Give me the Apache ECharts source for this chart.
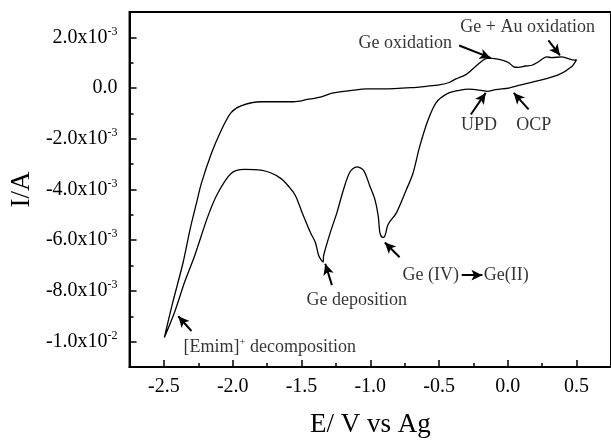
<!DOCTYPE html>
<html>
<head>
<meta charset="utf-8">
<script src="https://cdn.jsdelivr.net/npm/echarts@6/dist/echarts.min.js"></script>
<style>
  html, body { margin: 0; padding: 0; background: #fff; }
  #chart { width: 611px; height: 443px; }
</style>
</head>
<body>
<div id="chart"></div>
<script>
// potential (V vs Ag) and current (in units of 1e-3 A), scan order
// cathodic sweep: from +0.5 V vertex down to -2.5 V
const cathodicE = [0.5, 0.463, 0.367, 0.199, 0.055, 0.007, -0.089, -0.15, -0.185, -0.282, -0.354, -0.44,
  -0.522, -0.582, -0.642, -0.69, -0.738, -0.81, -0.87, -0.894, -0.911, -0.93, -0.942, -0.966, -1.002,
  -1.05, -1.098, -1.147, -1.195, -1.243, -1.291, -1.339, -1.343, -1.375, -1.399, -1.435, -1.495, -1.531,
  -1.555, -1.651, -1.795, -1.915, -2.012, -2.108, -2.18, -2.276, -2.349, -2.42, -2.497];
const cathodicI = [1.12, 0.84, 0.52, 0.26, 0.07, 0.0, -0.06, -0.13, -0.10, -0.04, -0.09, -0.22,
  -0.58, -1.29, -2.33, -3.37, -4.01, -4.92, -5.37, -5.83, -5.89, -5.70, -5.05, -4.40, -3.88,
  -3.24, -3.11, -3.30, -4.01, -4.92, -5.70, -6.60, -6.86, -6.60, -6.09, -5.70, -4.92, -4.40,
  -4.14, -3.56, -3.24, -3.21, -3.37, -4.14, -5.05, -6.60, -7.64, -8.80, -9.84];
// anodic sweep: from -2.5 V back up to +0.5 V
const anodicE = [-2.497, -2.44, -2.36, -2.31, -2.264, -2.228, -2.156, -2.084, -2.012, -1.94, -1.795,
  -1.72, -1.557, -1.457, -1.363, -1.27, -1.147, -1.026, -0.906, -0.666, -0.594, -0.498, -0.426, -0.377,
  -0.305, -0.21, -0.15, -0.113, -0.041, 0.007, 0.043, 0.079, 0.127, 0.175, 0.223, 0.283, 0.319, 0.391,
  0.488, 0.5];
const anodicI = [-9.84, -8.54, -6.86, -5.57, -4.55, -3.76, -2.59, -1.67, -0.97, -0.70, -0.54,
  -0.54, -0.54, -0.45, -0.36, -0.19, -0.10, -0.03, -0.03, 0.03, 0.07, 0.13, 0.22, 0.36,
  0.53, 0.97, 1.17, 1.17, 1.10, 1.0, 0.84, 0.82, 0.87, 0.90, 1.04, 1.23, 1.20, 1.23,
  1.10, 1.12];

const xMajor = [-2.5, -2.0, -1.5, -1.0, -0.5, 0.0, 0.5];
const xMinor = [-2.25, -1.75, -1.25, -0.75, -0.25, 0.25];
const yMajor = [2, 0, -2, -4, -6, -8, -10];
const yMinor = [1, -1, -3, -5, -7, -9];

// annotations: [E, I, text]
const notes = [
  [-0.745, 1.75, 'Ge oxidation'],
  [0.144, 2.40, 'Ge + Au oxidation'],
  [-0.209, -1.48, 'UPD'],
  [0.188, -1.48, 'OCP'],
  [-1.099, -8.35, 'Ge deposition'],
  [-0.56, -7.38, 'Ge (IV)'],
  [-0.011, -7.38, 'Ge(II)'],
  [-1.731, -10.21, '[Emim]{sup|+} decomposition']
];
// arrows: [fromE, fromI, toE, toI]
const arrows = [
  [-0.354, 1.68, -0.125, 1.19],
  [0.295, 1.88, 0.379, 1.29],
  [-0.269, -1.04, -0.161, -0.19],
  [0.151, -0.84, 0.043, -0.19],
  [-1.279, -7.77, -1.327, -6.93],
  [-0.787, -6.67, -0.894, -6.09],
  [-0.335, -7.38, -0.185, -7.38],
  [-2.30, -9.58, -2.396, -9.0]
];

const font = 'Liberation Serif, Times New Roman, serif';

const loop = [];
cathodicE.forEach((e, i) => loop.push([e, cathodicI[i]]));
anodicE.forEach((e, i) => loop.push([e, anodicI[i]]));

function yLabel(v) {
  if (v === 0) return '0.0';
  if (Math.abs(v) >= 10) return (v / 10).toFixed(1) + 'x10{sup|-2}';
  return v.toFixed(1) + 'x10{sup|-3}';
}

const supStyle = { fontFamily: font, fontSize: 12, color: '#000', padding: [0, 0, 12, 0] };
const baseLabel = { fontFamily: font, fontSize: 20, color: '#000' };

const chart = echarts.init(document.getElementById('chart'));
chart.setOption({
  animation: false,
  backgroundColor: '#fff',
  grid: { left: 127, top: 12, width: 486, height: 361, show: true, borderColor: '#000', borderWidth: 2 },
  xAxis: [{
    type: 'value', min: -2.75, max: 0.75,
    name: 'E/ V vs Ag', nameLocation: 'middle', nameGap: 44,
    nameTextStyle: { fontFamily: font, fontSize: 27, color: '#000' },
    axisLine: { onZero: false, lineStyle: { color: '#000', width: 2 } },
    axisTick: { inside: true, length: 7, lineStyle: { color: '#000', width: 1.5 }, customValues: xMajor },
    axisLabel: Object.assign({ margin: 10, customValues: xMajor, formatter: v => v.toFixed(1) }, baseLabel),
    splitLine: { show: false }
  }, {
    type: 'value', min: -2.75, max: 0.75, position: 'bottom',
    axisLine: { show: false, onZero: false },
    axisTick: { inside: true, length: 4, lineStyle: { color: '#000', width: 1.5 }, customValues: xMinor },
    axisLabel: { show: false },
    splitLine: { show: false }
  }],
  yAxis: [{
    type: 'value', min: -11, max: 3,
    name: 'I/A', nameLocation: 'middle', nameGap: 92,
    nameTextStyle: { fontFamily: font, fontSize: 27, color: '#000' },
    axisLine: { onZero: false, lineStyle: { color: '#000', width: 2 } },
    axisTick: { inside: true, length: 7, lineStyle: { color: '#000', width: 1.5 }, customValues: yMajor },
    axisLabel: Object.assign({ margin: 12, customValues: yMajor, formatter: yLabel, rich: { sup: supStyle } }, baseLabel),
    splitLine: { show: false }
  }, {
    type: 'value', min: -11, max: 3, position: 'left',
    axisLine: { show: false, onZero: false },
    axisTick: { inside: true, length: 4, lineStyle: { color: '#000', width: 1.5 }, customValues: yMinor },
    axisLabel: { show: false },
    splitLine: { show: false }
  }],
  series: [{
    type: 'line',
    data: loop,
    showSymbol: false,
    smooth: 0.3,
    lineStyle: { color: '#000', width: 1.3 },
    silent: true
  }, {
    type: 'scatter',
    data: notes,
    symbolSize: 0,
    silent: true,
    label: {
      show: true, position: 'inside',
      fontFamily: font, fontSize: 18, color: '#000',
      formatter: p => p.data[2],
      rich: { sup: { fontFamily: font, fontSize: 11, color: '#000', padding: [0, 0, 10, 0] } }
    },
    markLine: {
      silent: true,
      symbol: ['none', 'arrow'],
      symbolSize: [8, 11],
      label: { show: false },
      lineStyle: { color: '#000', width: 2, type: 'solid' },
      data: arrows.map(a => [{ coord: [a[0], a[1]] }, { coord: [a[2], a[3]] }])
    }
  }]
});
</script>
</body>
</html>
